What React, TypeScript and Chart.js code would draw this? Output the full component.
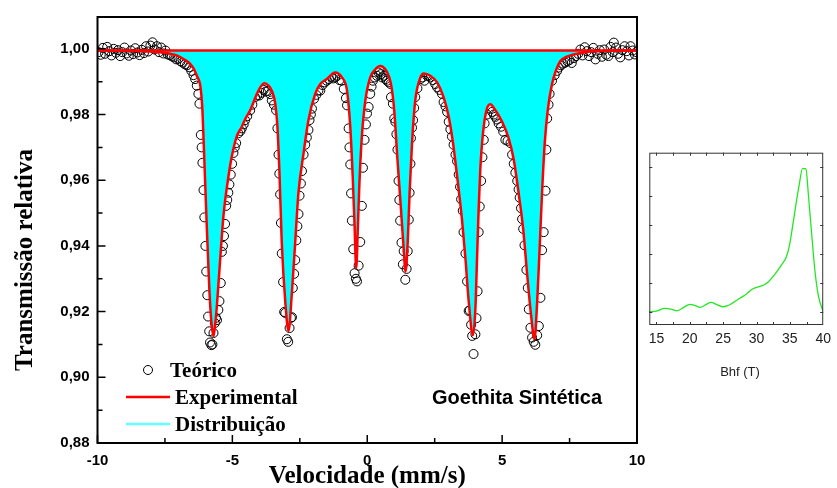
import React, { useEffect, useRef } from 'react';
import { Chart, registerables } from 'chart.js';

Chart.register(...registerables);

// Fitted spectrum (velocity in mm/s, relative transmission)
const FIT_VELOCITY = [
  -10.0, -9.0, -8.16, -7.6, -7.3, -7.0, -6.75, -6.55, -6.42, -6.3, -6.2, -6.15, -6.11, -6.04, -5.95, -5.85,
  -5.78, -5.7, -5.64, -5.58, -5.45, -5.33, -5.18, -5.02, -4.84, -4.65, -4.5, -4.34, -4.09, -3.95, -3.81,
  -3.66, -3.54, -3.41, -3.33, -3.25, -3.17, -3.04, -2.92, -2.79, -2.67, -2.55, -2.36, -2.18, -1.93, -1.74,
  -1.5, -1.19, -0.94, -0.75, -0.63, -0.54, -0.47, -0.41, -0.35, -0.29, -0.2, -0.07, 0.11, 0.3, 0.48, 0.71,
  0.88, 1.0, 1.12, 1.25, 1.35, 1.42, 1.5, 1.57, 1.66, 1.78, 1.97, 2.1, 2.34, 2.59, 2.83, 3.02, 3.18, 3.33,
  3.51, 3.64, 3.76, 3.92, 4.01, 4.07, 4.13, 4.19, 4.29, 4.42, 4.56, 4.75, 5.0, 5.24, 5.43, 5.61, 5.78,
  5.93, 6.07, 6.2, 6.3, 6.39, 6.48, 6.58, 6.69, 6.85, 7.0, 7.16, 7.4, 7.65, 8.27, 9.0, 10.0,
];
const FIT_TRANSMISSION = [
  0.9995, 0.9994, 0.9992, 0.9989, 0.9985, 0.9978, 0.9966, 0.9953, 0.9938, 0.9915, 0.9893, 0.986, 0.9813,
  0.9663, 0.9462, 0.9262, 0.917, 0.9125, 0.916, 0.9211, 0.9362, 0.9492, 0.9592, 0.9673, 0.9733, 0.9763,
  0.979, 0.9813, 0.9863, 0.9885, 0.9895, 0.9888, 0.9873, 0.9833, 0.9763, 0.9613, 0.9412, 0.9232, 0.9141,
  0.9262, 0.9412, 0.9562, 0.9683, 0.9783, 0.9863, 0.9893, 0.9908, 0.9928, 0.9913, 0.9873, 0.9763, 0.9613,
  0.9462, 0.9332, 0.9452, 0.9592, 0.9733, 0.9843, 0.9913, 0.9938, 0.9948, 0.9933, 0.9893, 0.9813, 0.9663,
  0.9512, 0.9392, 0.9322, 0.9412, 0.9562, 0.9713, 0.9843, 0.9913, 0.9925, 0.9918, 0.9898, 0.9853, 0.9793,
  0.9713, 0.9613, 0.9482, 0.9362, 0.9232, 0.9128, 0.9211, 0.9362, 0.9512, 0.9632, 0.9743, 0.9813, 0.9831,
  0.9813, 0.9778, 0.9728, 0.9663, 0.9562, 0.9452, 0.9312, 0.9192, 0.9116, 0.9232, 0.9392, 0.9562, 0.9713,
  0.9813, 0.9893, 0.9935, 0.9963, 0.9976, 0.9983, 0.9992, 0.9994, 0.9995,
];
const BASELINE = 0.9995;

// Measured points
const DATA_VELOCITY = [
  -9.96, -9.88, -9.8, -9.72, -9.64, -9.56, -9.48, -9.4, -9.32, -9.24, -9.16, -9.08, -9.0, -8.92, -8.84, -8.76,
  -8.68, -8.6, -8.52, -8.44, -8.36, -8.28, -8.2, -8.12, -8.04, -7.96, -7.88, -7.8, -7.72, -7.64, -7.56, -7.48,
  -7.4, -7.32, -7.24, -7.16, -7.08, -7.0, -6.92, -6.84, -6.76, -6.68, -6.6, -6.52, -6.44, -6.38, -6.32, -6.26,
  -6.22, -6.17, -6.14, -6.11, -6.07, -6.04, -6.0, -5.97, -5.93, -5.9, -5.86, -5.83, -5.78, -5.74, -5.7, -5.65,
  -5.61, -5.57, -5.52, -5.48, -5.43, -5.39, -5.35, -5.31, -5.27, -5.23, -5.19, -5.15, -5.11, -5.06, -5.01,
  -4.96, -4.91, -4.86, -4.78, -4.7, -4.65, -4.58, -4.53, -4.45, -4.34, -4.26, -4.16, -4.08, -4.0, -3.92, -3.84,
  -3.76, -3.68, -3.6, -3.54, -3.46, -3.38, -3.33, -3.29, -3.26, -3.23, -3.2, -3.17, -3.12, -3.08, -3.04, -2.98,
  -2.93, -2.88, -2.83, -2.79, -2.76, -2.71, -2.67, -2.63, -2.59, -2.55, -2.51, -2.46, -2.42, -2.36, -2.3, -2.24,
  -2.18, -2.14, -2.09, -2.05, -1.97, -1.89, -1.81, -1.74, -1.66, -1.58, -1.5, -1.42, -1.34, -1.26, -1.19, -1.11,
  -1.03, -0.95, -0.87, -0.79, -0.75, -0.69, -0.66, -0.63, -0.6, -0.57, -0.52, -0.47, -0.42, -0.38, -0.32, -0.26,
  -0.2, -0.16, -0.1, -0.05, -0.01, 0.05, 0.11, 0.16, 0.21, 0.28, 0.36, 0.42, 0.46, 0.5, 0.55, 0.62, 0.68, 0.73,
  0.8, 0.86, 0.88, 0.95, 1.0, 1.04, 1.08, 1.12, 1.16, 1.19, 1.22, 1.27, 1.32, 1.35, 1.41, 1.46, 1.5, 1.54, 1.57,
  1.6, 1.62, 1.66, 1.7, 1.74, 1.78, 1.86, 1.97, 2.05, 2.12, 2.22, 2.28, 2.34, 2.43, 2.52, 2.59, 2.68, 2.77,
  2.83, 2.9, 2.96, 3.02, 3.08, 3.14, 3.2, 3.27, 3.33, 3.39, 3.44, 3.48, 3.54, 3.57, 3.64, 3.7, 3.76, 3.8, 3.85,
  3.89, 3.94, 4.01, 4.05, 4.09, 4.13, 4.17, 4.22, 4.27, 4.32, 4.35, 4.44, 4.54, 4.63, 4.69, 4.75, 4.81, 4.87,
  4.96, 5.04, 5.12, 5.2, 5.31, 5.37, 5.43, 5.49, 5.56, 5.61, 5.65, 5.7, 5.74, 5.78, 5.83, 5.9, 5.95, 5.99,
  6.05, 6.11, 6.17, 6.23, 6.3, 6.36, 6.42, 6.48, 6.54, 6.61, 6.64, 6.67, 6.72, 6.76, 6.85, 6.95, 7.04, 7.1,
  7.18, 7.26, 7.34, 7.42, 7.5, 7.58, 7.66, 7.74, 7.82, 7.9, 7.98, 8.06, 8.14, 8.22, 8.3, 8.38, 8.46, 8.54,
  8.62, 8.7, 8.78, 8.86, 8.94, 9.02, 9.1, 9.14, 9.22, 9.3, 9.38, 9.46, 9.54, 9.62, 9.7, 9.76, 9.84, 9.92, 9.98,
];
const DATA_TRANSMISSION = [
  0.999, 0.9982, 1.0003, 0.9985, 1.0006, 0.9993, 0.998, 1.0, 0.9988, 0.9996, 0.9978, 0.999, 1.0004, 0.9986,
  0.9979, 0.9995, 0.9984, 1.0002, 0.9989, 0.9981, 0.9997, 0.9987, 1.0008, 0.9992, 1.001, 1.002, 0.9998,
  1.0008, 0.999, 1.0004, 0.9986, 0.9995, 0.9983, 0.9981, 0.9977, 0.9974, 0.9968, 0.997, 0.9962, 0.9958,
  0.9953, 0.995, 0.9944, 0.9933, 0.992, 0.9908, 0.9888, 0.9863, 0.9833, 0.9738, 0.97, 0.9653, 0.957, 0.9487,
  0.94, 0.9322, 0.925, 0.9185, 0.914, 0.9106, 0.9098, 0.91, 0.9135, 0.9165, 0.9181, 0.9174, 0.9205, 0.9232,
  0.9287, 0.9382, 0.94, 0.943, 0.9467, 0.9522, 0.954, 0.9562, 0.9587, 0.9617, 0.965, 0.9683, 0.97, 0.9713,
  0.9743, 0.975, 0.9758, 0.977, 0.9783, 0.9795, 0.9813, 0.983, 0.9853, 0.9858, 0.9858, 0.9866, 0.9875,
  0.987, 0.9872, 0.9862, 0.9843, 0.983, 0.9813, 0.9758, 0.9678, 0.962, 0.9557, 0.947, 0.9377, 0.929, 0.9199,
  0.9196, 0.9116, 0.9108, 0.915, 0.9181, 0.9183, 0.9272, 0.9315, 0.9357, 0.9417, 0.946, 0.9497, 0.9553,
  0.959, 0.9628, 0.9678, 0.9708, 0.973, 0.9753, 0.9783, 0.98, 0.9818, 0.9848, 0.986, 0.9873, 0.9873, 0.989,
  0.9898, 0.9903, 0.9908, 0.9915, 0.991, 0.9913, 0.9918, 0.9905, 0.9903, 0.9878, 0.985, 0.9828, 0.9758,
  0.97, 0.9648, 0.956, 0.9477, 0.939, 0.9317, 0.93, 0.9292, 0.934, 0.9412, 0.9522, 0.9638, 0.9723, 0.977,
  0.9803, 0.9823, 0.9863, 0.9885, 0.9903, 0.9913, 0.9918, 0.9928, 0.9933, 0.9923, 0.9913, 0.9918, 0.9908,
  0.9903, 0.9898, 0.9893, 0.9853, 0.9833, 0.9788, 0.9778, 0.974, 0.9693, 0.9598, 0.954, 0.9477, 0.941,
  0.9344, 0.9384, 0.9297, 0.933, 0.9384, 0.948, 0.9562, 0.965, 0.9728, 0.976, 0.9783, 0.982, 0.9853, 0.988,
  0.9908, 0.9913, 0.9903, 0.9918, 0.9918, 0.9913, 0.9905, 0.9893, 0.9883, 0.9875, 0.9863, 0.9838, 0.9825,
  0.9808, 0.9778, 0.9755, 0.9733, 0.9708, 0.9678, 0.9658, 0.9617, 0.958, 0.9542, 0.9507, 0.9442, 0.9377,
  0.9292, 0.9202, 0.9204, 0.916, 0.9126, 0.9071, 0.9131, 0.918, 0.9262, 0.9442, 0.952, 0.9598, 0.967,
  0.9723, 0.9773, 0.98, 0.9818, 0.9808, 0.98, 0.9793, 0.9785, 0.9773, 0.9763, 0.9748, 0.9723, 0.972, 0.9713,
  0.9678, 0.965, 0.9623, 0.9598, 0.9572, 0.9547, 0.9515, 0.9482, 0.9452, 0.9402, 0.9327, 0.9272, 0.9207,
  0.9151, 0.9121, 0.9108, 0.9099, 0.9128, 0.9156, 0.9242, 0.9387, 0.9442, 0.9568, 0.9693, 0.9788, 0.983,
  0.9863, 0.9903, 0.992, 0.9933, 0.9943, 0.995, 0.9955, 0.9958, 0.9962, 0.9966, 0.9957, 0.9972, 0.9978,
  0.9985, 0.9998, 0.998, 1.0005, 0.9993, 0.9978, 0.999, 1.0003, 0.9968, 0.9985, 0.9996, 0.9976, 0.9998,
  0.9982, 0.9978, 1.0006, 0.999, 1.0019, 1.0004, 0.9985, 0.9974, 0.9996, 1.0008, 0.9993, 0.998, 1.0008,
  0.9995, 0.9983, 0.999,
];

const X_TICKS = [-10, -5, 0, 5, 10];
const X_TICK_MARKS = [-10, -7.5, -5, -2.5, 0, 2.5, 5, 7.5, 10];
const Y_TICKS = [0.88, 0.9, 0.92, 0.94, 0.96, 0.98, 1.0];
const Y_TICK_MARKS = [0.88, 0.89, 0.9, 0.91, 0.92, 0.93, 0.94, 0.95, 0.96, 0.97, 0.98, 0.99, 1.0];

// Hyperfine field distribution
const BHF = [
  13.94, 15.0, 16.2, 17.16, 18.1, 19.1, 20.0, 20.8, 21.6, 22.45, 23.2, 23.9, 24.9, 25.6, 26.5, 27.5, 28.5,
  29.4, 30.4, 31.1, 31.8, 32.8, 33.75, 34.5, 34.95, 35.4, 35.9, 36.4, 36.9, 37.4, 37.8, 38.3, 38.8, 39.3, 40.0,
];
const PROBABILITY = [
  0.0, 0.02, 0.11, 0.09, 0.03, 0.15, 0.25, 0.21, 0.15, 0.25, 0.32, 0.26, 0.17, 0.2, 0.31, 0.46, 0.61, 0.78,
  0.86, 0.92, 1.03, 1.3, 1.61, 1.9, 2.3, 2.93, 3.68, 4.37, 4.94, 4.92, 3.97, 2.59, 1.32, 0.52, 0.0,
];
const BHF_TICKS = [15, 20, 25, 30, 35, 40];
const BHF_TICK_MARKS = [15, 17.5, 20, 22.5, 25, 27.5, 30, 32.5, 35, 37.5];
const P_TICK_MARKS = [0, 1, 2, 3, 4, 5];

const SERIF = '"Liberation Serif", "Times New Roman", serif';
const SANS = '"Liberation Sans", Arial, sans-serif';
const RED = '#ff0000';
const CYAN = '#00ffff';

const zip = (xs: number[], ys: number[]) => xs.map((x, i) => ({ x, y: ys[i] }));

const mainDecor = {
  id: 'mainDecor',
  afterDraw(chart: any) {
    const { ctx, chartArea: a } = chart;
    const x = chart.scales.x;
    const y = chart.scales.y;
    ctx.save();
    // frame
    ctx.strokeStyle = '#000';
    ctx.lineWidth = 2;
    ctx.strokeRect(a.left, a.top, a.right - a.left, a.bottom - a.top);
    // inward tick marks
    ctx.lineWidth = 1.5;
    ctx.beginPath();
    X_TICK_MARKS.forEach((v) => {
      const px = x.getPixelForValue(v);
      const len = X_TICKS.includes(v) ? 8 : 5;
      ctx.moveTo(px, a.bottom);
      ctx.lineTo(px, a.bottom - len);
    });
    Y_TICK_MARKS.forEach((v) => {
      const py = y.getPixelForValue(v);
      const len = Y_TICKS.some((t) => Math.abs(t - v) < 1e-9) ? 8 : 5;
      ctx.moveTo(a.left, py);
      ctx.lineTo(a.left + len, py);
    });
    ctx.stroke();

    // axis titles
    ctx.fillStyle = '#000';
    ctx.font = `bold 25px ${SERIF}`;
    ctx.textAlign = 'center';
    ctx.textBaseline = 'alphabetic';
    ctx.fillText('Velocidade (mm/s)', (a.left + a.right) / 2, 483);
    ctx.save();
    ctx.translate(32, 260);
    ctx.rotate(-Math.PI / 2);
    ctx.fillText('Transmissão relativa', 0, 0);
    ctx.restore();

    // legend
    const ds = chart.data.datasets;
    const teo = ds.find((d: any) => d.label === 'Teórico');
    const exp = ds.find((d: any) => d.label === 'Experimental');
    const dis = ds.find((d: any) => d.label === 'Distribuição');
    ctx.strokeStyle = teo.pointBorderColor;
    ctx.lineWidth = 1;
    ctx.beginPath();
    ctx.arc(148, 370, teo.pointRadius, 0, Math.PI * 2);
    ctx.stroke();
    ctx.lineWidth = 2.5;
    ctx.strokeStyle = exp.borderColor;
    ctx.beginPath();
    ctx.moveTo(126, 397);
    ctx.lineTo(170, 397);
    ctx.stroke();
    ctx.strokeStyle = '#66ffff';
    ctx.beginPath();
    ctx.moveTo(126, 424);
    ctx.lineTo(170, 424);
    ctx.stroke();
    ctx.font = `bold 21px ${SERIF}`;
    ctx.textAlign = 'left';
    ctx.fillText(teo.label, 170, 377);
    ctx.fillText(exp.label, 175, 404);
    ctx.fillText(dis.label, 175, 431);

    ctx.font = `bold 20px ${SANS}`;
    ctx.fillText('Goethita Sintética', 432, 404);
    ctx.restore();
  },
};

const insetDecor = {
  id: 'insetDecor',
  afterDraw(chart: any) {
    const { ctx, chartArea: a } = chart;
    const x = chart.scales.x;
    const y = chart.scales.y;
    ctx.save();
    ctx.strokeStyle = '#333';
    ctx.lineWidth = 1;
    ctx.strokeRect(a.left + 0.5, a.top + 0.5, a.right - a.left - 1, a.bottom - a.top - 1);
    ctx.beginPath();
    BHF_TICK_MARKS.forEach((v) => {
      const px = Math.round(x.getPixelForValue(v)) + 0.5;
      ctx.moveTo(px, a.top);
      ctx.lineTo(px, a.top + 3);
      ctx.moveTo(px, a.bottom);
      ctx.lineTo(px, a.bottom - 3);
    });
    P_TICK_MARKS.forEach((v) => {
      const py = Math.round(y.getPixelForValue(v)) + 0.5;
      ctx.moveTo(a.left, py);
      ctx.lineTo(a.left + 3, py);
      ctx.moveTo(a.right, py);
      ctx.lineTo(a.right - 3, py);
    });
    ctx.stroke();
    ctx.fillStyle = '#222';
    ctx.font = `13px ${SANS}`;
    ctx.textAlign = 'center';
    ctx.textBaseline = 'middle';
    ctx.fillText('Bhf (T)', 740, 372);
    ctx.restore();
  },
};

export default function App() {
  const mainRef = useRef<HTMLCanvasElement>(null);
  const insetRef = useRef<HTMLCanvasElement>(null);

  useEffect(() => {
    const fit = zip(FIT_VELOCITY, FIT_TRANSMISSION);
    const main = new Chart(mainRef.current as HTMLCanvasElement, {
      type: 'line',
      data: {
        datasets: [
          {
            label: 'Experimental',
            data: fit,
            borderColor: RED,
            borderWidth: 2.5,
            pointRadius: 0,
            cubicInterpolationMode: 'monotone',
            fill: false,
            order: 0,
          },
          {
            label: 'Linha base',
            data: [
              { x: -10, y: BASELINE },
              { x: 10, y: BASELINE },
            ],
            borderColor: RED,
            borderWidth: 2.5,
            pointRadius: 0,
            fill: false,
            order: 1,
          },
          {
            label: 'Distribuição',
            data: fit,
            borderColor: CYAN,
            borderWidth: 1,
            backgroundColor: CYAN,
            pointRadius: 0,
            cubicInterpolationMode: 'monotone',
            fill: { value: BASELINE },
            order: 2,
          },
          {
            label: 'Teórico',
            data: zip(DATA_VELOCITY, DATA_TRANSMISSION),
            showLine: false,
            pointRadius: 4.5,
            pointBorderWidth: 1,
            pointBorderColor: '#000',
            pointBackgroundColor: 'rgba(0,0,0,0)',
            order: 3,
          },
        ],
      } as any,
      options: {
        animation: false,
        responsive: false,
        maintainAspectRatio: false,
        events: [],
        layout: { padding: { left: 0, top: 12, right: 200, bottom: 0 } },
        plugins: { legend: { display: false }, tooltip: { enabled: false } },
        scales: {
          x: {
            type: 'linear',
            min: -10,
            max: 10,
            grid: { display: false, drawTicks: false },
            border: { display: false },
            afterBuildTicks: (s: any) => {
              s.ticks = X_TICKS.map((value) => ({ value }));
            },
            afterFit: (s: any) => {
              s.height = 45;
            },
            ticks: {
              color: '#000',
              padding: 9,
              maxRotation: 0,
              font: { family: SANS, weight: 'bold', size: 15 },
              callback: (v: any) => String(v),
            },
          },
          y: {
            type: 'linear',
            min: 0.88,
            max: 1.0097,
            grid: { display: false, drawTicks: false },
            border: { display: false },
            afterBuildTicks: (s: any) => {
              s.ticks = Y_TICKS.map((value) => ({ value }));
            },
            afterFit: (s: any) => {
              s.width = 97.5;
            },
            ticks: {
              color: '#000',
              padding: 8,
              font: { family: SANS, weight: 'bold', size: 15 },
              callback: (v: any) => Number(v).toFixed(2).replace('.', ','),
            },
          },
        },
      } as any,
      plugins: [mainDecor],
    });

    const inset = new Chart(insetRef.current as HTMLCanvasElement, {
      type: 'line',
      data: {
        datasets: [
          {
            label: 'Distribuição Bhf',
            data: zip(BHF, PROBABILITY),
            borderColor: '#22e822',
            borderWidth: 1.3,
            pointRadius: 0,
            cubicInterpolationMode: 'monotone',
            fill: false,
          },
        ],
      } as any,
      options: {
        animation: false,
        responsive: false,
        maintainAspectRatio: false,
        events: [],
        layout: { padding: { left: 649.3, top: 152.7, right: 7, bottom: 133 } },
        plugins: { legend: { display: false }, tooltip: { enabled: false } },
        scales: {
          x: {
            type: 'linear',
            min: 13.93,
            max: 40,
            grid: { display: false, drawTicks: false },
            border: { display: false },
            afterBuildTicks: (s: any) => {
              s.ticks = BHF_TICKS.map((value) => ({ value }));
            },
            afterFit: (s: any) => {
              s.height = 30;
            },
            ticks: {
              color: '#222',
              padding: 6,
              maxRotation: 0,
              font: { family: SANS, size: 14 },
            },
          },
          y: {
            type: 'linear',
            display: false,
            min: -0.46,
            max: 5.48,
          },
        },
      } as any,
      plugins: [insetDecor],
    });

    return () => {
      main.destroy();
      inset.destroy();
    };
  }, []);

  return (
    <div style={{ position: 'fixed', left: 0, top: 0, width: 837, height: 488, background: '#fff' }}>
      <canvas ref={mainRef} width={837} height={488} style={{ position: 'absolute', left: 0, top: 0 }} />
      <canvas ref={insetRef} width={837} height={488} style={{ position: 'absolute', left: 0, top: 0 }} />
    </div>
  );
}
